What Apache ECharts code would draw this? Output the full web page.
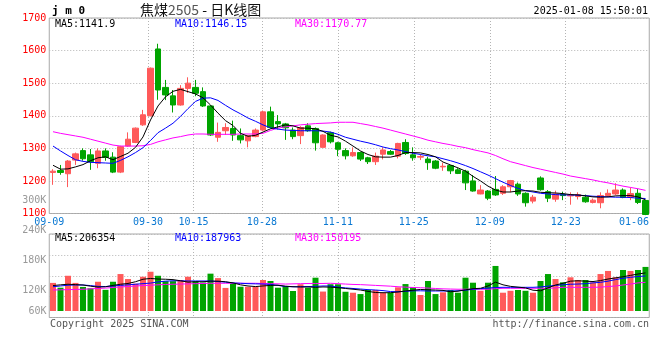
<!DOCTYPE html>
<html><head><meta charset="utf-8">
<script src="https://cdn.jsdelivr.net/npm/echarts@6/dist/echarts.min.js"></script>
<style>html,body{margin:0;padding:0;background:#fff}#c{width:660px;height:360px}</style>
</head><body><div id="c"></div>
<script>
const dates = ['09-09','09-10','09-11','09-12','09-13','09-18','09-19','09-20','09-23','09-24','09-25','09-26','09-27','09-30',
'10-08','10-09','10-10','10-11','10-14','10-15','10-16','10-17','10-18','10-21','10-22','10-23','10-24','10-25','10-28','10-29','10-30','10-31',
'11-01','11-04','11-05','11-06','11-07','11-08','11-11','11-12','11-13','11-14','11-15','11-18','11-19','11-20','11-21','11-22','11-25','11-26','11-27','11-28','11-29',
'12-02','12-03','12-04','12-05','12-06','12-09','12-10','12-11','12-12','12-13','12-16','12-17','12-18','12-19','12-20','12-23','12-24','12-25','12-26','12-27','12-30','12-31',
'01-02','01-03','01-06','01-07','01-08'];

const opens = [1226,1232,1222,1264,1293,1280,1254,1292,1273,1227, 1307,1318,1372,1400,1605,1487,1461,1433,1484,1487,
 1474,1430,1334,1354,1361,1339,1323,1336,1356,1412, 1382,1375,1356,1339,1369,1361,1303,1348,1317,1293,
 1277,1287,1271,1259,1282,1290,1276,1318,1280,1273, 1267,1261,1243,1247,1234,1230,1200,1160,1169,1174,
 1162,1182,1190,1162,1138,1209,1167,1144,1159,1154, 1152,1150,1134,1133,1155,1160,1172,1150,1162,1140];
const closes = [1230,1226,1261,1283,1268,1259,1292,1272,1227,1305, 1328,1362,1403,1546,1479,1464,1433,1484,1500,1469,
 1430,1341,1349,1364,1341,1326,1339,1356,1412,1364, 1375,1363,1336,1364,1354,1317,1341,1320,1297,1277,
 1287,1267,1259,1276,1295,1282,1315,1284,1271,1275, 1256,1239,1245,1231,1223,1194,1169,1172,1147,1157,
 1182,1201,1160,1133,1150,1173,1147,1160,1155,1156, 1158,1136,1141,1155,1162,1172,1149,1161,1134,1097];
const lows = [1188,1219,1181,1249,1262,1234,1239,1262,1224,1224, 1305,1316,1369,1398,1449,1448,1410,1431,1470,1460,
 1427,1338,1320,1341,1323,1315,1303,1334,1353,1361, 1358,1326,1328,1313,1351,1293,1303,1315,1276,1266,
 1274,1261,1252,1249,1266,1280,1269,1280,1262,1264, 1234,1236,1231,1221,1221,1172,1167,1159,1141,1154,
 1157,1165,1154,1121,1131,1170,1135,1136,1141,1127, 1143,1133,1131,1116,1152,1156,1147,1141,1129,1095];
const highs = [1236,1249,1264,1287,1300,1298,1300,1300,1288,1308, 1349,1364,1418,1548,1621,1510,1479,1494,1518,1510,
 1487,1432,1379,1377,1385,1361,1341,1361,1416,1428, 1402,1378,1364,1368,1377,1364,1343,1351,1320,1300,
 1303,1290,1274,1287,1303,1295,1317,1328,1303,1282, 1274,1264,1256,1249,1239,1234,1218,1187,1172,1215,
 1187,1203,1195,1165,1157,1214,1172,1170,1167,1165, 1165,1158,1146,1165,1174,1193,1177,1180,1175,1142];

const ma5 = [1248,1236,1237,1243,1250,1262,1271,1274,1265,1275, 1285,1303,1335,1387,1430,1458,1475,1481,1474,1467,
 1455,1433,1408,1385,1370,1346,1337,1340,1350,1360, 1366,1372,1369,1362,1362,1360,1352,1340,1335,1322,
 1307,1292,1281,1274,1273,1273,1278,1287,1287,1286, 1281,1274,1258,1249,1240,1230,1214,1200,1184,1172,
 1166,1166,1169,1170,1169,1165,1164,1163,1161,1158, 1157,1154,1151,1150,1151,1154,1155,1155,1151,1142];
const ma10 = [1307,1292,1278,1265,1260,1257,1256,1255,1254,1263, 1274,1287,1302,1324,1348,1362,1377,1398,1422,1444,
 1454,1455,1447,1432,1418,1406,1393,1383,1372,1363, 1359,1356,1355,1354,1354,1354,1353,1350,1343,1334,
 1328,1322,1317,1311,1304,1299,1295,1290,1285,1281, 1277,1274,1268,1262,1255,1247,1238,1228,1218,1207,
 1196,1186,1177,1170,1166,1162,1160,1158,1157,1157, 1156,1155,1153,1152,1151,1150,1150,1149,1147,1146];
const ma30 = [1351,1346,1342,1338,1334,1328,1322,1316,1310,1307, 1307,1307,1308,1312,1320,1326,1332,1336,1341,1344,
 1344,1343,1343,1343,1343,1344,1344,1344,1346,1355, 1362,1366,1369,1372,1374,1376,1377,1378,1380,1380,
 1380,1376,1372,1367,1362,1356,1350,1344,1338,1332, 1325,1320,1315,1311,1306,1302,1296,1291,1286,1278,
 1268,1259,1253,1247,1241,1236,1231,1226,1221,1215, 1211,1207,1203,1198,1194,1189,1184,1180,1176,1171];

const volumes = [146,121,183,146,125,118,152,110,152,192, 166,142,178,204,183,155,155,160,178,155,
 148,194,171,120,143,126,126,126,161,156, 121,130,104,139,121,173,101,139,139,100,
 95,88,109,109,95,95,123,140,123,83, 156,88,97,109,95,173,147,105,147,234,
 95,105,109,105,95,156,192,166,149,175, 161,161,149,192,208,175,213,208,213,229].map(v => v * 1000);
const volMa5 = [132,136,139,137,135,129,124,126,133,139, 143,152,165,169,166,165,163,157,150,152,
 152,155,155,152,146,136,130,127,130,133, 134,129,126,125,125,123,125,124,121,117,
 113,109,102,96,95,95,99,104,108,112, 110,109,107,100,103,110,116,118,130,150,
 136,128,124,120,108,105,120,135,144,155, 157,155,153,158,166,172,178,185,192,198].map(v => v * 1000);
const volMa10 = [126,130,134,135,135,132,128,127,130,133, 136,139,142,145,151,155,157,157,156,156,
 156,156,153,150,146,144,142,141,140,138, 133,127,126,126,127,128,130,130,124,120,
 117,114,111,109,106,101,100,102,105,105, 104,104,104,104,105,108,113,116,119,122,
 123,123,123,123,123,125,129,133,136,139, 140,142,146,149,155,163,170,175,179,182].map(v => v * 1000);
const volMa30 = [109,110,111,112,113,115,117,119,122,125, 127,130,132,134,136,138,139,140,141,142,
 143,144,144,144,144,144,144,144,143,142, 141,140,141,142,143,143,143,144,142,140,
 138,137,135,133,131,129,126,124,122,121, 119,117,115,114,113,113,113,113,113,116,
 118,118,118,118,118,118,118,120,123,123, 123,123,123,124,127,130,135,140,146,149].map(v => v * 1000);

const xTickLabels = ['09-09','09-30','10-15','10-28','11-11','11-25','12-09','12-23','01-06'];
const xGridDates = ['09-30','10-15','10-28','11-11','11-25','12-09','12-23'];
const priceMin = 1100, priceMax = 1700, priceStep = 100;
const volTickLabels = ['60K','120K','180K','240K','300K'];
const titleText = ['jm0', '焦煤', '2505', ' - 日K线图'];
const stamp = '2025-01-08 15:50:01';
const maPriceText = ['MA5:1141.9', 'MA10:1146.15', 'MA30:1170.77'];
const maVolText = ['MA5:206354', 'MA10:187963', 'MA30:150195'];

const RED = '#ff5a5a', GREEN = '#00a400';
const mono = '"DejaVu Sans Mono","Liberation Mono",monospace';
const L = 49.25, W = 600;
const dotted = {show:true, lineStyle:{color:'#b4b4b4', width:1, type:[1,2]}};
const vDotted = Object.assign({interval:(i, v) => xGridDates.includes(v)}, dotted);

const chart = echarts.init(document.getElementById('c'), null, {renderer:'canvas'});
const txt = (x, y, text, fill, align, font) => ({type:'text', x:x, y:y, silent:true,
  style:{text:text, fill:fill, align:align || 'left', verticalAlign:'middle', font:font || ('10px ' + mono)}});

chart.setOption({
  animation:false,
  backgroundColor:'#fff',
  grid:[
    {left:L, width:W, top:18, height:195.5, show:true, borderColor:'#a8a8a8', borderWidth:1, outerBoundsMode:'none'},
    {left:L, width:W, top:234, height:83.5, show:true, borderColor:'#a8a8a8', borderWidth:1, outerBoundsMode:'none'},
    {left:L, width:W, top:234, height:77, outerBoundsMode:'none'},
    {left:L, width:W, top:200, height:90, outerBoundsMode:'none'}
  ],
  xAxis:[
    {type:'category', gridIndex:0, data:dates, boundaryGap:true, show:false, position:'bottom'},
    {type:'category', gridIndex:0, data:dates, boundaryGap:false, position:'bottom',
      axisLine:{show:false}, axisTick:{show:false},
      axisLabel:{interval:(i, v) => xTickLabels.includes(v), color:'#0a78d2', fontFamily:mono, fontSize:10, margin:4},
      splitLine:vDotted},
    {type:'category', gridIndex:1, data:dates, boundaryGap:false, position:'bottom',
      axisLine:{show:false}, axisTick:{show:false}, axisLabel:{show:false}, splitLine:vDotted},
    {type:'category', gridIndex:2, data:dates, boundaryGap:true, show:false, position:'bottom'},
    {type:'category', gridIndex:3, data:dates, show:false, position:'bottom'}
  ],
  yAxis:[
    {type:'value', gridIndex:0, min:priceMin, max:priceMax, interval:priceStep,
      axisLine:{show:false}, axisTick:{show:false},
      axisLabel:{color:'#ff0000', fontFamily:mono, fontSize:10, margin:3, formatter:v => String(v)}, splitLine:dotted},
    {type:'value', gridIndex:1, min:0, max:4, interval:1, axisLine:{show:false}, axisTick:{show:false},
      axisLabel:{show:false}, splitLine:dotted},
    {type:'value', gridIndex:2, min:0, max:400000, show:false, splitLine:{show:false}},
    {type:'value', gridIndex:3, min:120000, max:300000, interval:60000,
      axisLine:{show:false}, axisTick:{show:false}, splitLine:{show:false},
      axisLabel:{color:'#999', fontFamily:mono, fontSize:10, margin:3,
        formatter:v => volTickLabels[Math.round(v / 60000) - 1]}}
  ],
  series:[
    {type:'candlestick', xAxisIndex:0, yAxisIndex:0, barWidth:6, clip:true,
      data:dates.map((d, i) => [opens[i], closes[i], lows[i], highs[i]]),
      itemStyle:{color:RED, color0:GREEN, borderColor:RED, borderColor0:GREEN, borderWidth:1}},
    {type:'line', xAxisIndex:0, yAxisIndex:0, data:ma30, symbol:'none', z:3, lineStyle:{color:'#ff00ff', width:1}},
    {type:'line', xAxisIndex:0, yAxisIndex:0, data:ma10, symbol:'none', z:4, lineStyle:{color:'#0000ff', width:1}},
    {type:'line', xAxisIndex:0, yAxisIndex:0, data:ma5, symbol:'none', z:5, lineStyle:{color:'#000', width:1}},
    {type:'bar', xAxisIndex:3, yAxisIndex:2, barWidth:6,
      data:volumes.map((v, i) => ({value:v, itemStyle:{color: closes[i] >= opens[i] ? RED : GREEN}}))},
    {type:'line', xAxisIndex:3, yAxisIndex:2, data:volMa30, symbol:'none', z:3, lineStyle:{color:'#ff00ff', width:1}},
    {type:'line', xAxisIndex:3, yAxisIndex:2, data:volMa10, symbol:'none', z:4, lineStyle:{color:'#0000ff', width:1}},
    {type:'line', xAxisIndex:3, yAxisIndex:2, data:volMa5, symbol:'none', z:5, lineStyle:{color:'#000', width:1}}
  ],
  graphic:[
    txt(52, 11, titleText[0].split('').join(' '), '#000', 'left', 'bold 11px ' + mono),
    {type:'text', x:140, y:10, silent:true, style:{
      text:'{a|' + titleText[1] + '}{b|' + titleText[2] + '}{a|' + titleText[3] + '}', verticalAlign:'middle',
      rich:{a:{fontFamily:'"Noto Sans CJK SC"', fontSize:14, fill:'#111'},
            b:{fontFamily:'"Noto Sans CJK SC"', fontSize:14, fill:'#555'}}}},
    txt(648, 11, stamp, '#000', 'right'),
    txt(55, 24, maPriceText[0], '#000'),
    txt(175, 24, maPriceText[1], '#0000ff'),
    txt(295, 24, maPriceText[2], '#ff00ff'),
    txt(55, 238, maVolText[0], '#000'),
    txt(175, 238, maVolText[1], '#0000ff'),
    txt(295, 238, maVolText[2], '#ff00ff'),
    txt(46.5, 311, volTickLabels[0], '#999', 'right'),
    txt(50, 324, 'Copyright 2025 SINA.COM', '#555'),
    txt(649, 324, 'http://finance.sina.com.cn', '#555', 'right')
  ]
});
</script></body></html>
